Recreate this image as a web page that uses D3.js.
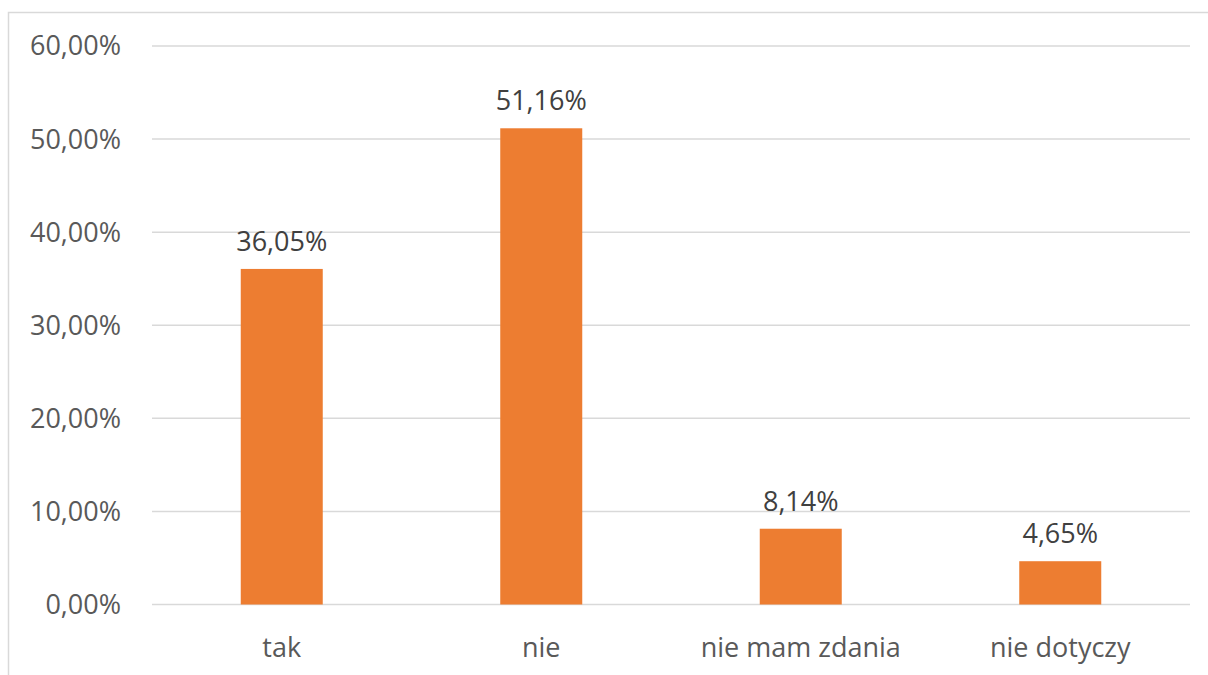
<!DOCTYPE html>
<html>
<head>
<meta charset="utf-8">
<script src="https://cdn.jsdelivr.net/npm/d3@7"></script>
<style>
  body { margin: 0; background: #fff; }
  svg { display: block; }
</style>
</head>
<body>
<div id="chart"></div>
<script>
const categories = ["tak", "nie", "nie mam zdania", "nie dotyczy"];
const values = [36.05, 51.16, 8.14, 4.65];
const yTicks = [0, 10, 20, 30, 40, 50, 60];

const W = 1208, H = 675;
const MARGIN = { LEFT: 152, RIGHT: 18, TOP: 46, BOTTOM: 70.5 };
const FONT = "'Open Sans', 'Noto Sans', sans-serif";
const FONT_SIZE = "27px";
const TEXT_COLOR = "#595959";

const svg = d3.select("#chart").append("svg")
    .attr("width", W)
    .attr("height", H);

// chart area border (Excel style)
svg.append("rect")
    .attr("x", 8.5).attr("y", 12.5)
    .attr("width", W + 20).attr("height", H + 20)
    .attr("fill", "#fff")
    .attr("stroke", "#d9d9d9")
    .attr("stroke-width", 1.5);

const x = d3.scaleBand()
    .domain(categories)
    .range([MARGIN.LEFT, W - MARGIN.RIGHT])
    .paddingInner(0.684)
    .paddingOuter(0.342);

const y = d3.scaleLinear()
    .domain([0, 60])
    .range([H - MARGIN.BOTTOM, MARGIN.TOP]);

const fmt = v => v.toFixed(2).replace(".", ",") + "%";

// grid lines
svg.append("g")
    .selectAll("line")
    .data(yTicks)
    .enter().append("line")
    .attr("x1", MARGIN.LEFT)
    .attr("x2", W - MARGIN.RIGHT)
    .attr("y1", d => y(d))
    .attr("y2", d => y(d))
    .attr("stroke", "#d9d9d9")
    .attr("stroke-width", 1.5);

// y labels
svg.append("g")
    .selectAll("text")
    .data(yTicks)
    .enter().append("text")
    .attr("x", 121)
    .attr("y", d => y(d))
    .attr("dy", "0.35em")
    .attr("text-anchor", "end")
    .attr("font-family", FONT)
    .attr("font-size", FONT_SIZE)
    .attr("fill", TEXT_COLOR)
    .text(d => fmt(d));

// bars
svg.append("g")
    .selectAll("rect")
    .data(values)
    .enter().append("rect")
    .attr("x", (d, i) => x(categories[i]))
    .attr("y", d => y(d))
    .attr("width", x.bandwidth())
    .attr("height", d => y(0) - y(d))
    .attr("fill", "#ed7d31");

// value labels
svg.append("g")
    .selectAll("text")
    .data(values)
    .enter().append("text")
    .attr("x", (d, i) => x(categories[i]) + x.bandwidth() / 2)
    .attr("y", d => y(d) - 18)
    .attr("text-anchor", "middle")
    .attr("font-family", FONT)
    .attr("font-size", FONT_SIZE)
    .attr("fill", "#404040")
    .text(d => fmt(d));

// category labels
svg.append("g")
    .selectAll("text")
    .data(categories)
    .enter().append("text")
    .attr("x", d => x(d) + x.bandwidth() / 2)
    .attr("y", 657)
    .attr("text-anchor", "middle")
    .attr("font-family", FONT)
    .attr("font-size", FONT_SIZE)
    .attr("fill", TEXT_COLOR)
    .text(d => d);
</script>
</body>
</html>
